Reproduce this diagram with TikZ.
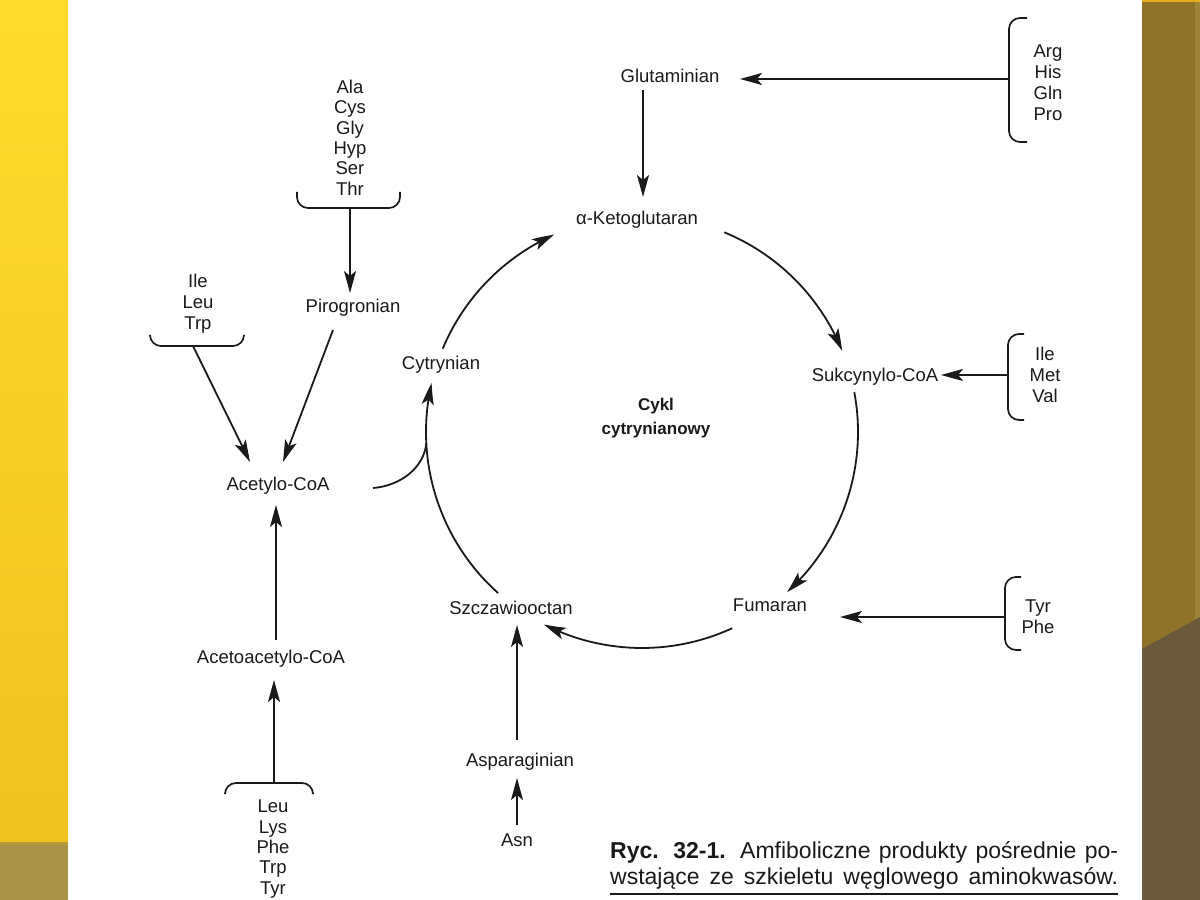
\documentclass[tikz,border=0pt]{standalone}
\usepackage{fontspec}
\setmainfont{Liberation Sans}
\usetikzlibrary{arrows.meta,calc,bending}
\definecolor{ink}{HTML}{1A1A1A}
\definecolor{ytop}{HTML}{FEDC2D}
\definecolor{ybot}{HTML}{F0C21F}
\definecolor{oliveband}{HTML}{A89347}
\definecolor{olivedark}{HTML}{B59A3A}
\definecolor{goldr}{HTML}{8E7328}
\definecolor{goldl}{HTML}{9E8436}
\definecolor{darkr}{HTML}{6A5A3B}
\definecolor{orline}{HTML}{E6AE1E}
\begin{document}
\begin{tikzpicture}[x=1pt,y=1pt,
  lbl/.style={font=\fontsize{18.5}{20.5}\selectfont, text=ink, inner sep=0pt, text height=13pt, text depth=0pt},
  lst/.style={font=\fontsize{18.5}{#1}\selectfont, text=ink, align=center, inner sep=0pt, anchor=north},
  lst/.default=20.7,
  arr/.style={draw=ink, line width=1.8pt, -{Stealth[length=22pt,width=12pt,inset=5pt,bend]}},
  ln/.style={draw=ink, line width=1.8pt},
  brk/.style={draw=ink, line width=1.7pt, rounded corners=11pt}]
\useasboundingbox (0,0) rectangle (1200,900);
% background
\fill[white] (0,0) rectangle (1200,900);
\shade[top color=ytop, bottom color=ybot] (0,57) rectangle (68,900);
\fill[oliveband] (0,0) rectangle (68,57);
\fill[olivedark] (0,55) rectangle (68,58);
\fill[goldr] (1142,0) rectangle (1200,900);
\fill[goldl] (1195,0) rectangle (1200,900);
\fill[darkr] (1142,0) -- (1142,251) -- (1200,283) -- (1200,0) -- cycle;
\fill[orline] (1142,898) rectangle (1200,900);

% main labels
\node[lbl] (glut) at (670,824) {Glutaminian};
\node[lbl] (akg) at (637,682) {α-Ketoglutaran};
\node[lbl] (cyt) at (441,537) {Cytrynian};
\node[lbl] (sukc) at (875,525) {Sukcynylo-CoA};
\node[lbl] (fum) at (770,295) {Fumaran};
\node[lbl] (szcz) at (511,292) {Szczawiooctan};
\node[lbl] (asp) at (520,140) {Asparaginian};
\node[lbl] (asn) at (517,60) {Asn};
\node[lbl] (acet) at (278,416) {Acetylo-CoA};
\node[lbl] (acac) at (271,243) {Acetoacetylo-CoA};
\node[lbl] (piro) at (353,594) {Pirogronian};
\node[font=\bfseries\fontsize{17}{24}\selectfont, text=ink, align=center, inner sep=0pt, anchor=north] (cykl) at (656,502) {Cykl\\cytrynianowy};

% amino-acid lists
\node[lst=20.3] (alal) at (350,820) {Ala\\Cys\\Gly\\Hyp\\Ser\\Thr};
\node[lst=21] (ilel) at (198,626) {Ile\\Leu\\Trp};
\node[lst=20.3] (leul) at (273,100) {Leu\\Lys\\Phe\\Trp\\Tyr};
\node[lst=20.7] (argl) at (1048,855) {Arg\\His\\Gln\\Pro};
\node[lst=21] (ile2l) at (1045,553) {Ile\\Met\\Val};
\node[lst=21] (tyrl) at (1038,300) {Tyr\\Phe};

% brackets
\draw[brk] (297,708) -- (297,692) -- (400,692) -- (400,708);
\coordinate (alab) at (350,692);
\draw[brk] (150,564) -- (150,554) -- (244,554) -- (244,564);
\coordinate (ileb) at (193,554);
\draw[brk] (225,107) -- (225,117) -- (313,117) -- (313,107);
\coordinate (leub) at (274,117);
\draw[brk] (1027,882) -- (1009,882) -- (1009,758) -- (1027,758);
\coordinate (argb) at (1009,821);
\draw[brk] (1024,566) -- (1008,566) -- (1008,480) -- (1024,480);
\coordinate (ile2b) at (1008,525);
\draw[brk] (1021,323) -- (1005,323) -- (1005,250) -- (1021,250);
\coordinate (tyrb) at (1005,283);

% straight arrows
\draw[arr] (alab) -- ($(piro)+(-3,13)$);
\draw[arr] (ileb) -- ($(acet)+(-28,22)$);
\draw[arr] ($(piro)+(-20,-24)$) -- ($(acet)+(5,22)$);
\draw[arr] ($(acac)+(5,17)$) -- ($(acet)+(-2,-21)$);
\draw[arr] (leub) -- ($(acac)+(3,-23)$);
\draw[arr] ($(glut)+(-27,-14)$) -- ($(akg)+(6,21)$);
\draw[arr] (argb) -- ($(glut)+(70,-3)$);
\draw[arr] (ile2b) -- ($(sukc)+(66,0)$);
\draw[arr] (tyrb) -- ($(fum)+(70,-12)$);
\draw[arr] ($(asp)+(-3,20)$) -- ($(szcz)+(6,-17)$);
\draw[arr] ($(asn)+(0,15)$) -- ($(asp)+(-3,-18)$);

% citric acid cycle arcs
\coordinate (C) at (642,468);
\draw[arr] ($(C)+(157.3:216)$) arc[start angle=157.3, end angle=114, radius=216];
\draw[arr] ($(C)+(67.6:216)$) arc[start angle=67.6, end angle=22.1, radius=216];
\draw[arr] ($(C)+(10.6:216)$) arc[start angle=10.6, end angle=-47.8, radius=216];
\draw[arr] ($(C)+(-65.3:216)$) arc[start angle=-65.3, end angle=-117, radius=216];
\draw[arr] ($(C)+(228.2:216)$) arc[start angle=228.2, end angle=166.9, radius=216];
% acetyl-CoA entry
\draw[ln] ($(acet)+(95,-4)$) .. controls (400,414) and (424,432) .. ($(C)+(183:216)$);

% caption
\node[font=\fontsize{23}{25}\selectfont, text=ink, inner sep=0pt, anchor=base west] (cap1) at (610,41)
  {\makebox[508pt][s]{\textbf{Ryc. 32-1.} Amfiboliczne produkty pośrednie po-}};
\node[font=\fontsize{23}{25}\selectfont, text=ink, inner sep=0pt, anchor=base west] (cap2) at (610,16)
  {\makebox[508pt][s]{wstające ze szkieletu węglowego aminokwasów.}};
\draw[draw=ink, line width=1.3pt] (cap2.base west) ++(0,-10) -- ++(508,0);
\end{tikzpicture}
\end{document}
